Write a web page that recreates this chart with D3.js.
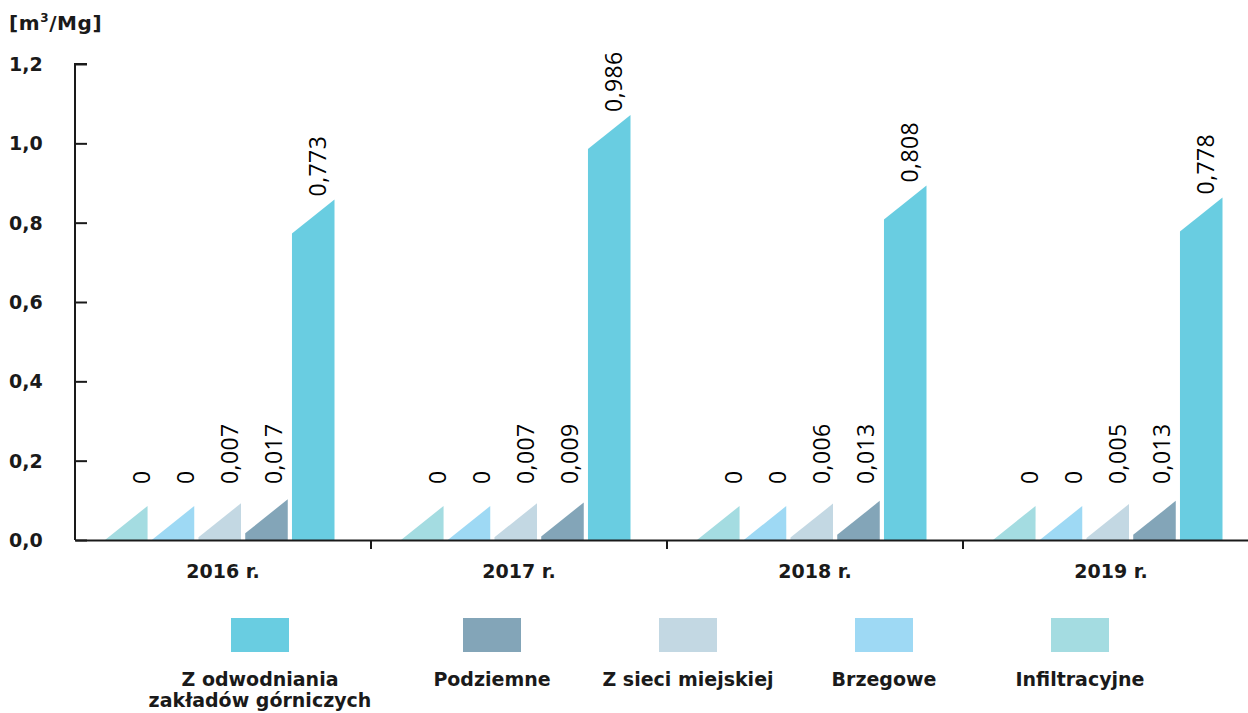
<!DOCTYPE html>
<html>
<head>
<meta charset="utf-8">
<script src="https://cdn.jsdelivr.net/npm/d3@7"></script>
<style>
  html, body { margin: 0; padding: 0; background: #ffffff; }
  svg { display: block; }
</style>
</head>
<body>
<svg id="chart" width="1248" height="713"></svg>
<script>
// ---- data ----
const years = ["2016 r.", "2017 r.", "2018 r.", "2019 r."];
const seriesNames = ["Infiltracyjne", "Brzegowe", "Z sieci miejskiej", "Podziemne", "Z odwodniania zakładów górniczych"];
const infiltracyjne = [0, 0, 0, 0];
const brzegowe = [0, 0, 0, 0];
const zSieciMiejskiej = [0.007, 0.007, 0.006, 0.005];
const podziemne = [0.017, 0.009, 0.013, 0.013];
const zOdwodniania = [0.773, 0.986, 0.808, 0.778];
const yTicks = [0, 0.2, 0.4, 0.6, 0.8, 1.0, 1.2];
const seriesColors = ["#a4dce1", "#9ed9f4", "#c3d8e3", "#83a5b8", "#69cde1"];
const legendOrder = [4, 3, 2, 1, 0];
const legendLabels = [["Z odwodniania", "zakładów górniczych"], ["Podziemne"], ["Z sieci miejskiej"], ["Brzegowe"], ["Infiltracyjne"]];

const seriesValues = [infiltracyjne, brzegowe, zSieciMiejskiej, podziemne, zOdwodniania];

// ---- layout ----
const svg = d3.select("#chart");
const boldFont = "'DejaVu Sans', 'Noto Sans', sans-serif";
const lightFont = "'Open Sans', 'Noto Sans', sans-serif";
const axisColor = "#1a1a1a";

const x0 = d3.scaleBand().domain(years).range([75, 1259]).paddingInner(0).paddingOuter(0);
const x1 = d3.scaleBand().domain(d3.range(seriesNames.length)).range([30, 259.5]).paddingInner(0.09).paddingOuter(0);
const xLabel = d3.scaleBand().domain(d3.range(seriesNames.length)).range([44.7, 264.7]).padding(0);
const y = d3.scaleLinear().domain([0, 1.2]).range([540, 64]);
const rise = 34; // slanted-top height in px

const fmtTick = v => d3.format(".1f")(v).replace(".", ",");
const fmtVal = v => v === 0 ? "0" : d3.format(".3f")(v).replace(".", ",");

// unit
svg.append("text")
  .attr("x", 9).attr("y", 30)
  .attr("font-family", boldFont).attr("font-weight", 700).attr("font-size", 20)
  .attr("letter-spacing", 0.6)
  .attr("fill", axisColor)
  .html('[m<tspan dy="-8" font-size="12">3</tspan><tspan dy="8">/Mg]</tspan>');

// y axis
const yAxis = d3.axisRight(y).tickValues(yTicks).tickSize(12).tickFormat("");
const gy = svg.append("g").attr("transform", "translate(75,0)").call(yAxis);
gy.select(".domain").attr("stroke", axisColor).attr("stroke-width", 2)
  .attr("d", `M12,${y(1.2)}H0V${y(0)}`);
gy.selectAll(".tick line").attr("stroke", axisColor).attr("stroke-width", 2);

svg.append("g").selectAll("text").data(yTicks).join("text")
  .attr("x", 9).attr("y", d => y(d)).attr("dy", "0.36em")
  .attr("font-family", boldFont).attr("font-weight", 700).attr("font-size", 19)
  .attr("fill", axisColor)
  .text(fmtTick);

// bars
const bars = [];
years.forEach((yr, gi) => {
  seriesValues.forEach((vals, si) => {
    bars.push({ year: yr, si, v: vals[gi] });
  });
});

const gBars = svg.append("g");
gBars.selectAll("path").data(bars).join("path")
  .attr("fill", d => seriesColors[d.si])
  .attr("d", d => {
    const xl = x0(d.year) + x1(d.si);
    const xr = xl + x1.bandwidth();
    const yl = y(d.v);
    const yr = y(d.v) - rise;
    return `M${xl},${y(0)}L${xl},${yl}L${xr},${yr}L${xr},${y(0)}Z`;
  });

// value labels
gBars.selectAll("text").data(bars).join("text")
  .attr("transform", d => {
    const cx = x0(d.year) + xLabel(d.si) + xLabel.bandwidth() / 2;
    const yb = Math.min(y(d.v) - rise - 3, 484);
    return `translate(${cx},${yb}) rotate(-90)`;
  })
  .attr("dy", "0.36em")
  .attr("font-family", lightFont).attr("font-weight", 400).attr("font-size", 23)
  .attr("letter-spacing", 0.4)
  .attr("fill", "#000")
  .text(d => fmtVal(d.v));

// x axis
const xAxis = d3.axisBottom(x0).tickValues([]).tickSizeOuter(0);
const gx = svg.append("g").attr("transform", `translate(0,${y(0)})`).call(xAxis);
gx.select(".domain").attr("stroke", axisColor).attr("stroke-width", 2);
// group separators
svg.append("g").selectAll("line").data(years.slice(1)).join("line")
  .attr("x1", d => x0(d)).attr("x2", d => x0(d))
  .attr("y1", y(0)).attr("y2", y(0) + 9)
  .attr("stroke", axisColor).attr("stroke-width", 2);
svg.append("g").selectAll("text").data(years).join("text")
  .attr("x", d => x0(d) + x0.bandwidth() / 2).attr("y", 578)
  .attr("text-anchor", "middle")
  .attr("font-family", boldFont).attr("font-weight", 700).attr("font-size", 19)
  .attr("fill", axisColor)
  .text(d => d);

// legend
const legendX = [260, 492, 688, 884, 1080];
const lg = svg.append("g");
legendOrder.forEach((si, i) => {
  const cx = legendX[i];
  lg.append("rect")
    .attr("x", cx - 29).attr("y", 618).attr("width", 58).attr("height", 34)
    .attr("fill", seriesColors[si]);
  const t = lg.append("text")
    .attr("x", cx).attr("y", 686)
    .attr("text-anchor", "middle")
    .attr("font-family", boldFont).attr("font-weight", 700).attr("font-size", 19)
    .attr("fill", axisColor);
  legendLabels[i].forEach((line, li) => {
    t.append("tspan").attr("x", cx).attr("dy", li === 0 ? 0 : 21).text(line);
  });
});
</script>
</body>
</html>
